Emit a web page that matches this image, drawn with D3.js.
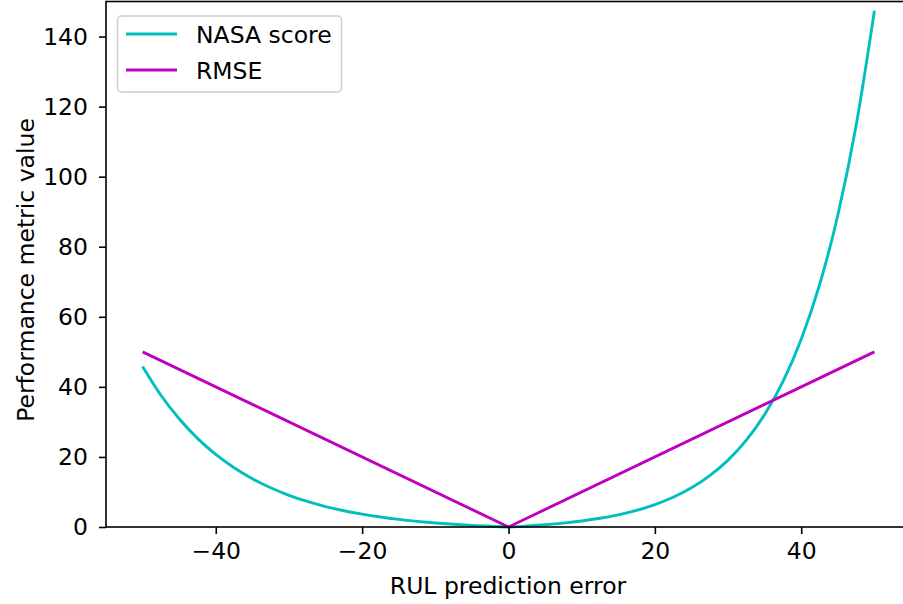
<!DOCTYPE html>
<html>
<head>
<meta charset="utf-8">
<script src="https://cdn.jsdelivr.net/npm/d3@7"></script>
<style>
  body { margin: 0; background: #fff; }
  svg { display: block; font-family: "DejaVu Sans", sans-serif; }
</style>
</head>
<body>
<svg id="chart" width="903" height="604"></svg>
<script>
// values
var nasaErrors = [-50, -47.5, -45, -42.5, -40, -37.5, -35, -32.5, -30, -27.5, -25, -22.5, -20, -17.5, -15, -12.5, -10, -7.5, -5, -2.5,
    0, 2.5, 5, 7.5, 10, 12.5, 15, 17.5, 20, 22.5, 25, 27.5, 30, 32.5, 35, 37.5, 40, 42.5, 45, 47.5, 50];
var nasaScores = [45.8, 37.6, 30.9, 25.3, 20.7, 16.9, 13.8, 11.2, 9.05, 7.29, 5.84, 4.65, 3.66, 2.84, 2.17, 1.62, 1.16, 0.78, 0.47, 0.21,
    0, 0.28, 0.65, 1.12, 1.72, 2.49, 3.48, 4.75, 6.39, 8.49, 11.18, 14.64, 19.09, 24.79, 32.1, 41.5, 53.6, 69.1, 89.0, 114.6, 147.4];
var rmseErrors = [-50, 0, 50];
var rmseValues = [50, 0, 50];
var xTicks = [-40, -20, 0, 20, 40];
var yTicks = [0, 20, 40, 60, 80, 100, 120, 140];
var seriesNames = ["NASA score", "RMSE"];

var svg = d3.select("#chart");
var margin = {left: 106, top: 1.5, right: 911, bottom: 527};
var fontSize = 23.5;

var x = d3.scaleLinear().domain([-55, 55]).range([margin.left, margin.right]);
var y = d3.scaleLinear().domain([0, 150]).range([margin.bottom, margin.top]);

// lines
var nasaData = nasaErrors.map(function(d, i) { return [d, nasaScores[i]]; });
var rmseData = rmseErrors.map(function(d, i) { return [d, rmseValues[i]]; });

var line = d3.line()
    .x(function(d) { return x(d[0]); })
    .y(function(d) { return y(d[1]); });

svg.append("path")
    .datum(nasaData)
    .attr("d", line.curve(d3.curveMonotoneX))
    .attr("fill", "none")
    .attr("stroke", "#00bfbf")
    .attr("stroke-width", 2.9);

svg.append("path")
    .datum(rmseData)
    .attr("d", line.curve(d3.curveLinear))
    .attr("fill", "none")
    .attr("stroke", "#bf00bf")
    .attr("stroke-width", 2.9);

// axes
var xAxis = d3.axisBottom(x).tickValues(xTicks).tickSize(7).tickPadding(8)
    .tickFormat(function(d) { return d < 0 ? "\u2212" + Math.abs(d) : d; });
var yAxis = d3.axisLeft(y).tickValues(yTicks).tickSize(7).tickPadding(11);

var gx = svg.append("g").attr("transform", "translate(0," + margin.bottom + ")").call(xAxis);
var gy = svg.append("g").attr("transform", "translate(" + margin.left + ",0)").call(yAxis);
[gx, gy].forEach(function(g) {
    g.select(".domain").remove();
    g.selectAll(".tick line").attr("stroke", "#000").attr("stroke-width", 1.6);
    g.selectAll(".tick text").attr("fill", "#000").style("font-size", fontSize + "px").style("font-family", "DejaVu Sans");
});

// spines
svg.append("rect")
    .attr("x", margin.left)
    .attr("y", margin.top)
    .attr("width", margin.right - margin.left)
    .attr("height", margin.bottom - margin.top)
    .attr("fill", "none")
    .attr("stroke", "#000")
    .attr("stroke-width", 1.6);

// axis labels
svg.append("text")
    .attr("x", 508)
    .attr("y", 594)
    .attr("text-anchor", "middle")
    .style("font-size", fontSize + "px")
    .text("RUL prediction error");

svg.append("text")
    .attr("transform", "translate(34,270) rotate(-90)")
    .attr("text-anchor", "middle")
    .style("font-size", fontSize + "px")
    .text("Performance metric value");

// legend
var legend = svg.append("g");
legend.append("rect")
    .attr("x", 117.5)
    .attr("y", 16)
    .attr("width", 224)
    .attr("height", 76)
    .attr("rx", 4)
    .attr("fill", "#fff")
    .attr("fill-opacity", 0.8)
    .attr("stroke", "#cccccc")
    .attr("stroke-width", 1.5);

var legendColors = ["#00bfbf", "#bf00bf"];
seriesNames.forEach(function(name, i) {
    var ly = 34 + i * 36;
    legend.append("line")
        .attr("x1", 126).attr("x2", 177)
        .attr("y1", ly).attr("y2", ly)
        .attr("stroke", legendColors[i])
        .attr("stroke-width", 2.9);
    legend.append("text")
        .attr("x", 196)
        .attr("y", ly + 8.5)
        .style("font-size", fontSize + "px")
        .text(name);
});
</script>
</body>
</html>
